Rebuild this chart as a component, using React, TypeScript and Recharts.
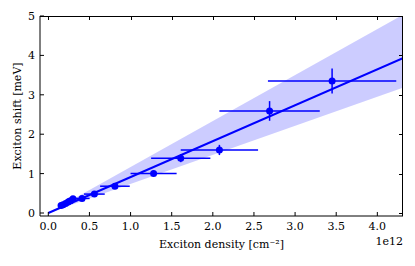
import {
  Area,
  ComposedChart,
  ErrorBar,
  Label,
  Line,
  Scatter,
  XAxis,
  YAxis,
} from "recharts";

// exciton density in units of 1e12 cm^-2
const densities = [0.155, 0.18, 0.21, 0.24, 0.27, 0.3, 0.41, 0.56, 0.81, 1.28, 1.61, 2.08, 2.69, 3.45];
const shifts = [0.19, 0.21, 0.24, 0.28, 0.31, 0.36, 0.37, 0.48, 0.68, 1.0, 1.39, 1.6, 2.59, 3.35];
const densityErrors = [0.035, 0.04, 0.045, 0.055, 0.06, 0.068, 0.092, 0.126, 0.18, 0.28, 0.36, 0.47, 0.61, 0.78];
const shiftErrors = [0.03, 0.03, 0.03, 0.03, 0.03, 0.04, 0.03, 0.04, 0.04, 0.04, 0.1, 0.13, 0.25, 0.32];

// linear fit and its confidence band
const fitX = [0, 4.31];
const fitY = [0, 3.93];
const bandLow = [0, 3.18];
const bandHigh = [0, 5.03];

const xTicks = [0, 0.5, 1, 1.5, 2, 2.5, 3, 3.5, 4];
const yTicks = [0, 1, 2, 3, 4, 5];

const X_DOMAIN = [-0.101, 4.312];
const Y_DOMAIN = [-0.076, 5];

const points = densities.map((x, i) => ({
  x,
  y: shifts[i],
  xerr: densityErrors[i],
  yerr: shiftErrors[i],
}));

const fit = fitX.map((x, i) => ({
  x,
  fit: fitY[i],
  band: [bandLow[i], bandHigh[i]],
}));

const BLUE = "#0000ff";
const FONT = "'DejaVu Serif', serif";
const tickStyle = { fontFamily: FONT, fontSize: 11, fill: "#000" };
const TICK = 4;

// plot box, used only for the top/right spines of the matplotlib frame
const W = 415;
const H = 266;
const M = { top: 16, right: 12, bottom: 0, left: 0 };
const Y_AXIS_W = 40;
const X_AXIS_H = 50;
const PLOT = {
  left: M.left + Y_AXIS_W,
  top: M.top,
  right: W - M.right,
  bottom: H - M.bottom - X_AXIS_H,
};
const sx = (v: number) =>
  PLOT.left + ((v - X_DOMAIN[0]) / (X_DOMAIN[1] - X_DOMAIN[0])) * (PLOT.right - PLOT.left);
const sy = (v: number) =>
  PLOT.bottom - ((v - Y_DOMAIN[0]) / (Y_DOMAIN[1] - Y_DOMAIN[0])) * (PLOT.bottom - PLOT.top);

function FrameOverlay() {
  return (
    <>
      <div
        style={{
          position: "absolute",
          left: PLOT.left,
          top: PLOT.top,
          width: PLOT.right - PLOT.left,
          height: PLOT.bottom - PLOT.top,
          boxSizing: "border-box",
          borderTop: "1px solid #000",
          borderRight: "1px solid #000",
          pointerEvents: "none",
        }}
      />
      {xTicks.map((v) => (
        <div
          key={`t${v}`}
          style={{
            position: "absolute",
            left: Math.round(sx(v)),
            top: PLOT.top,
            width: 1,
            height: TICK,
            background: "#000",
          }}
        />
      ))}
      {yTicks.map((v) => (
        <div
          key={`r${v}`}
          style={{
            position: "absolute",
            left: PLOT.right - TICK,
            top: Math.round(sy(v)),
            width: TICK,
            height: 1,
            background: "#000",
          }}
        />
      ))}
    </>
  );
}

export default function App() {
  return (
    <div style={{ position: "relative", width: W, height: H, background: "#fff" }}>
      <style>{`body { margin: 0; }`}</style>
      <ComposedChart width={W} height={H} margin={M}>
        <XAxis
          dataKey="x"
          type="number"
          domain={X_DOMAIN}
          ticks={xTicks}
          tickFormatter={(v: number) => v.toFixed(1)}
          allowDataOverflow
          height={X_AXIS_H}
          tickSize={-TICK}
          tickMargin={10}
          tick={tickStyle}
          stroke="#000"
          tickLine={{ stroke: "#000" }}
        >
          <Label
            content={() => (
              <g style={{ fontFamily: FONT, fontSize: 11 }}>
                <text x={221.5} y={244} textAnchor="middle" dominantBaseline="central" fill="#000">
                  Exciton density [cm⁻²]
                </text>
                <text x={403} y={241.5} textAnchor="end" dominantBaseline="central" fill="#000">
                  1e12
                </text>
              </g>
            )}
          />
        </XAxis>
        <YAxis
          type="number"
          domain={Y_DOMAIN}
          ticks={yTicks}
          allowDataOverflow
          width={Y_AXIS_W}
          tickSize={-TICK}
          tickMargin={9}
          tick={tickStyle}
          stroke="#000"
          tickLine={{ stroke: "#000" }}
        >
          <Label
            content={() => (
              <text
                x={17}
                y={116}
                transform="rotate(-90 17 116)"
                textAnchor="middle"
                dominantBaseline="central"
                fill="#000"
                style={{ fontFamily: FONT, fontSize: 11 }}
              >
                Exciton shift [meV]
              </text>
            )}
          />
        </YAxis>
        <Area
          data={fit}
          dataKey="band"
          type="linear"
          stroke="none"
          fill={BLUE}
          fillOpacity={0.2}
          isAnimationActive={false}
        />
        <Line
          data={fit}
          dataKey="fit"
          type="linear"
          stroke={BLUE}
          strokeWidth={2}
          dot={false}
          activeDot={false}
          isAnimationActive={false}
        />
        <Scatter
          data={points}
          dataKey="y"
          fill={BLUE}
          isAnimationActive={false}
          shape={(p: any) => <circle cx={p.cx} cy={p.cy} r={3.5} fill={BLUE} />}
        >
          <ErrorBar dataKey="xerr" direction="x" width={0} stroke={BLUE} strokeWidth={1.5} />
          <ErrorBar dataKey="yerr" direction="y" width={0} stroke={BLUE} strokeWidth={1.5} />
        </Scatter>
      </ComposedChart>
      <FrameOverlay />
    </div>
  );
}
